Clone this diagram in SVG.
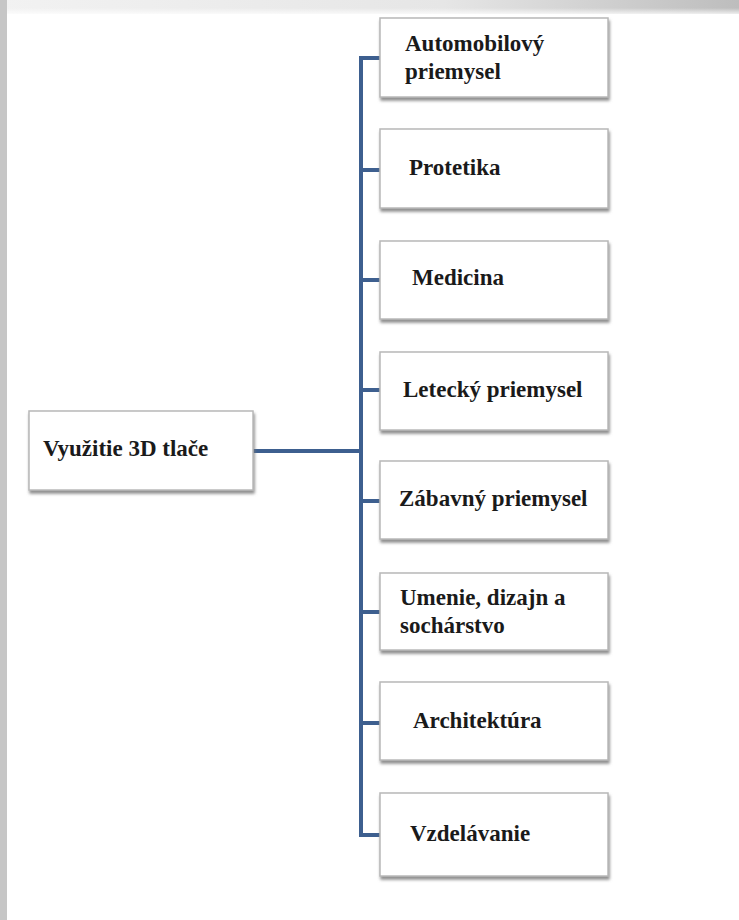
<svg xmlns="http://www.w3.org/2000/svg" width="739" height="920" viewBox="0 0 739 920">
  <defs>
    <linearGradient id="topband" x1="0" y1="0" x2="1" y2="0">
      <stop offset="0" stop-color="#f2f2f2"/>
      <stop offset="0.6" stop-color="#e6e6e6"/>
      <stop offset="1" stop-color="#bdbdbd"/>
    </linearGradient>
    <linearGradient id="topfade" x1="0" y1="0" x2="0" y2="1">
      <stop offset="0" stop-color="#ffffff" stop-opacity="0"/>
      <stop offset="1" stop-color="#ffffff" stop-opacity="1"/>
    </linearGradient>
    <filter id="shadow" x="-10%" y="-10%" width="125%" height="135%">
      <feDropShadow dx="1" dy="3" stdDeviation="1.6" flood-color="#7a7a7a" flood-opacity="0.85"/>
    </filter>
    <style>
      .box { fill: #ffffff; stroke: #b8b8b8; stroke-width: 1.5; filter: url(#shadow); }
      .lbl { font-family: "Liberation Serif", "Times New Roman", serif; font-weight: bold; font-size: 23px; fill: #1a1a1a; }
      .conn { fill: none; stroke: #3d5f8f; stroke-width: 4; stroke-linejoin: miter; }
    </style>
  </defs>

  <rect x="0" y="0" width="739" height="920" fill="#ffffff"/>
  <rect x="0" y="0" width="739" height="14" fill="url(#topband)"/>
  <rect x="0" y="8" width="739" height="8" fill="url(#topfade)"/>
  <rect x="0" y="0" width="7" height="920" fill="#c6c6c6"/>

  <g id="connectors">
    <path class="conn" d="M253 451 H361"/>
    <path class="conn" d="M380 58 H361 V835 H380"/>
    <path class="conn" d="M361 170 H380"/>
    <path class="conn" d="M361 280 H380"/>
    <path class="conn" d="M361 390 H380"/>
    <path class="conn" d="M361 501 H380"/>
    <path class="conn" d="M361 612 H380"/>
    <path class="conn" d="M361 723 H380"/>
  </g>

  <g id="root">
    <rect class="box" x="29" y="411" width="224" height="79"/>
    <text class="lbl" x="43" y="456">Využitie 3D tlače</text>
  </g>

  <g id="automobilovy">
    <rect class="box" x="380" y="18" width="228" height="79"/>
    <text class="lbl" x="405" y="51">Automobilový</text>
    <text class="lbl" x="405" y="79">priemysel</text>
  </g>

  <g id="protetika">
    <rect class="box" x="380" y="129" width="228" height="79"/>
    <text class="lbl" x="409" y="175">Protetika</text>
  </g>

  <g id="medicina">
    <rect class="box" x="380" y="241" width="228" height="78"/>
    <text class="lbl" x="412" y="285">Medicina</text>
  </g>

  <g id="letecky">
    <rect class="box" x="380" y="352" width="228" height="78"/>
    <text class="lbl" x="403" y="397">Letecký priemysel</text>
  </g>

  <g id="zabavny">
    <rect class="box" x="380" y="461" width="228" height="78"/>
    <text class="lbl" x="399" y="506">Zábavný priemysel</text>
  </g>

  <g id="umenie">
    <rect class="box" x="380" y="573" width="228" height="77"/>
    <text class="lbl" x="400" y="605">Umenie, dizajn a</text>
    <text class="lbl" x="400" y="633">sochárstvo</text>
  </g>

  <g id="architektura">
    <rect class="box" x="380" y="682" width="228" height="78"/>
    <text class="lbl" x="413" y="728">Architektúra</text>
  </g>

  <g id="vzdelavanie">
    <rect class="box" x="380" y="793" width="228" height="83"/>
    <text class="lbl" x="410" y="841">Vzdelávanie</text>
  </g>
</svg>
